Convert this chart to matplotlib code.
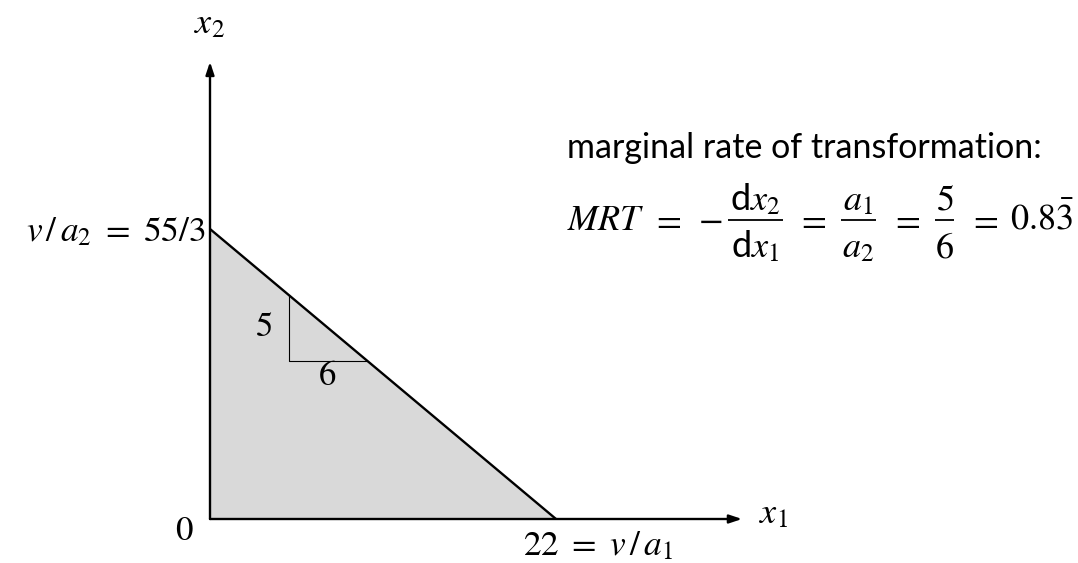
import numpy as np
import matplotlib
matplotlib.use("Agg")
import matplotlib.pyplot as plt

plt.rcParams["mathtext.fontset"] = "custom"
plt.rcParams["mathtext.rm"] = "STIXGeneral"
plt.rcParams["mathtext.it"] = "STIXGeneral:italic"
plt.rcParams["mathtext.bf"] = "STIXGeneral:bold"
plt.rcParams["mathtext.sf"] = "Lato"
plt.rcParams["mathtext.fallback"] = "stix"
plt.rcParams["font.family"] = ["STIXGeneral", "DejaVu Serif"]

# budget line v = a1*x1 + a2*x2
v = 110
a1 = 5
a2 = 6
x1_max = v / a1          # 22
x2_max = v / a2          # 55/3
slope_x = [5, 10]        # where the little 5/6 triangle sits
axis_ends = [33.83, 28.9]


def line(x):
    return x2_max - a1 / a2 * x


W, H = 1078, 563
fig = plt.figure(figsize=(W / 100, H / 100), dpi=100)
ax = fig.add_axes([0, 0, 1, 1])
sx = 346 / 22.0
sy = 290 / (55 / 3.0)
ax.set_xlim(-210 / sx, (W - 210) / sx)
ax.set_ylim(-(H - 519) / sy, 519 / sy)
ax.axis("off")


def X(px):
    # pixel column -> data x
    return (px - 210) / sx


def Y(py):
    # pixel row (from top) -> data y
    return (519 - py) / sy


# feasible set
ax.fill([0, x1_max, 0], [0, 0, x2_max], color="#d9d9d9", lw=0, zorder=1)
ax.plot([0, x1_max], [x2_max, 0], color="black", lw=1.7, zorder=3,
        solid_capstyle="butt")

# slope triangle
xa, xb = slope_x
ax.plot([xa, xa, xb], [line(xa), line(xb), line(xb)], color="black",
        lw=0.8, zorder=2)
ax.text(xa - 1.5, (line(xa) + line(xb)) / 2, "5", fontsize=25,
        ha="center", va="center")
ax.text((xa + xb) / 2, line(xb) - 1.0, "6", fontsize=25,
        ha="center", va="center")

# axes with arrows
arrow = dict(arrowstyle="-|>,head_length=0.75,head_width=0.25",
             color="black", lw=1.7, shrinkA=0, shrinkB=0)
ax.annotate("", xy=(axis_ends[0], 0), xytext=(0, 0), arrowprops=arrow,
            zorder=4)
ax.annotate("", xy=(0, axis_ends[1]), xytext=(0, 0), arrowprops=arrow,
            zorder=4)

ax.text(X(759), Y(523), r"$x_1$", fontsize=26, ha="left", va="baseline")
ax.text(X(209), Y(25), r"$x_2$", fontsize=26, ha="center", va="center")
ax.text(X(184), Y(532), "0", fontsize=25, ha="center", va="center")
ax.text(X(206), Y(241), r"$v\,/\,a_2\ =\ 55/3$", fontsize=25.5, ha="right",
        va="baseline")
ax.text(X(523), Y(555), r"$22\ =\ v\,/\,a_1$", fontsize=25.5, ha="left",
        va="baseline")

# marginal rate of transformation
ax.text(X(567), Y(158), "marginal rate of transformation:", fontsize=24.5,
        family=["Lato", "DejaVu Sans"], ha="left", va="baseline")

fs = 26
base = Y(230)
ax.text(X(567), base, r"$MRT$", fontsize=fs, ha="left", va="baseline")
for cx in [666, 811, 905, 983]:
    ax.text(X(cx), base, r"$=$", fontsize=fs, ha="center", va="baseline")
ax.text(X(710), base, r"$-$", fontsize=fs, ha="center", va="baseline")
ax.text(X(1010), base, r"$0.8\bar{3}$", fontsize=fs, ha="left",
        va="baseline")

# the three fractions: numerator, denominator, bar from/to (pixels)
fracs = [(r"$\mathsf{d}x_2$", r"$\mathsf{d}x_1$", 728, 783),
         (r"$a_1$", r"$a_2$", 841, 876),
         (r"$5$", r"$6$", 935, 954)]
for num, den, p0, p1 in fracs:
    mid = X((p0 + p1) / 2)
    ax.text(mid, Y(210), num, fontsize=fs, ha="center", va="baseline")
    ax.text(mid, Y(257), den, fontsize=fs, ha="center", va="baseline")
    ax.plot([X(p0), X(p1)], [Y(220), Y(220)], color="black", lw=1.3,
            solid_capstyle="butt")

fig.savefig("out.png", dpi=100)
